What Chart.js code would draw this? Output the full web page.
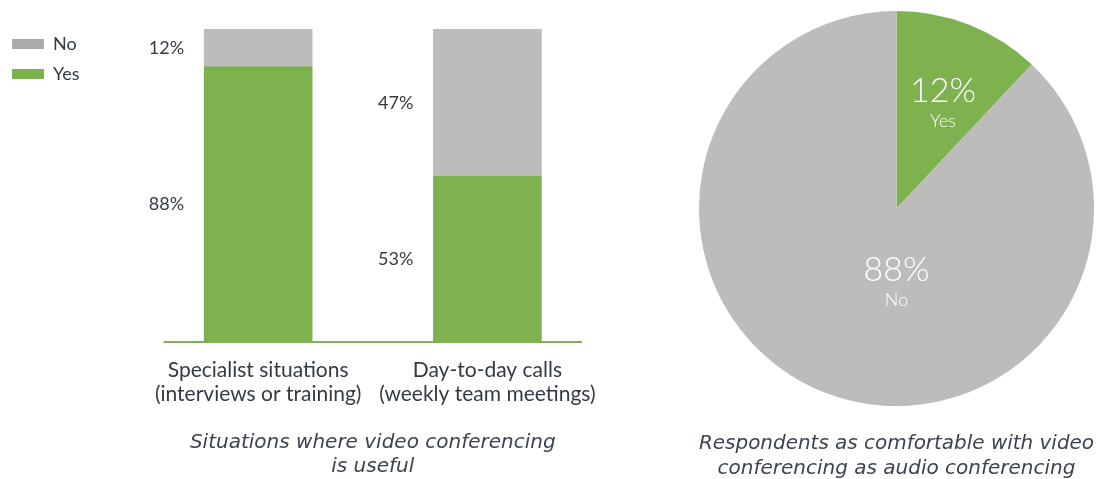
<!DOCTYPE html>
<html>
<head>
<meta charset="utf-8">
<script src="https://cdn.jsdelivr.net/npm/chart.js@4.4.1/dist/chart.umd.min.js"></script>
<style>
  html, body { margin: 0; padding: 0; background: #fff; overflow: hidden; }
  #wrap { position: relative; width: 1113px; height: 479px; overflow: hidden; }
  #bars { position: absolute; left: 0; top: 0; }
  #pie { position: absolute; left: 680px; top: 0; }
</style>
</head>
<body>
<div id="wrap">
  <canvas id="bars" width="620" height="479"></canvas>
  <canvas id="pie" width="433" height="490"></canvas>
</div>
<script>
const GREEN = '#7db24e';
const GREY = '#bcbcba';
const INK = '#343a44';

// left chart: stacked bars
const categories = [['Specialist situations', '(interviews or training)'], ['Day-to-day calls', '(weekly team meetings)']];
const yesShare = [88, 53];
const noShare = [12, 47];
const barTitle = ['Situations where video conferencing', 'is useful'];

// right chart: pie
const pieLabels = ['Yes', 'No'];
const pieShare = [12, 88];
const pieTitle = ['Respondents as comfortable with video', 'conferencing as audio conferencing'];

const FONT = 'Lato, "Open Sans", sans-serif';
const ITALIC = '"DejaVu Sans", "Open Sans", sans-serif';
Chart.defaults.font.family = FONT;
Chart.defaults.color = INK;
Chart.defaults.animation = false;

// value labels to the left of each segment + the short green baseline
const barLabels = {
  id: 'barLabels',
  afterDatasetsDraw(chart) {
    const ctx = chart.ctx;
    ctx.save();
    ctx.font = '18px ' + FONT;
    ctx.fillStyle = INK;
    ctx.textAlign = 'right';
    ctx.textBaseline = 'middle';
    chart.data.datasets.forEach((ds, i) => {
      chart.getDatasetMeta(i).data.forEach((bar, j) => {
        ctx.fillText(ds.data[j] + '%', bar.x - bar.width / 2 - 20, (bar.y + bar.base) / 2);
      });
    });
    const x = chart.scales.x;
    ctx.strokeStyle = GREEN;
    ctx.lineWidth = 2;
    ctx.beginPath();
    ctx.moveTo(x.left + 20, x.top);
    ctx.lineTo(x.right - 20, x.top);
    ctx.stroke();
    ctx.restore();
  }
};

new Chart(document.getElementById('bars'), {
  type: 'bar',
  data: {
    labels: categories,
    datasets: [
      { label: 'Yes', data: yesShare, backgroundColor: GREEN },
      { label: 'No', data: noShare, backgroundColor: GREY },
    ],
  },
  options: {
    responsive: false,
    layout: { padding: { top: 23, left: 0, right: 18, bottom: 0 } },
    datasets: { bar: { barThickness: 108 } },
    plugins: {
      legend: {
        position: 'left', align: 'start', reverse: true,
        labels: {
          boxWidth: 32, boxHeight: 10, padding: 12, color: INK, font: { size: 18 },
          generateLabels(chart) {
            const items = Chart.defaults.plugins.legend.labels.generateLabels(chart);
            items.forEach(it => { it.lineWidth = 0; if (it.text === 'No') it.fillStyle = '#aaaaaa'; });
            return items;
          },
        },
      },
      tooltip: { enabled: false },
    },
    scales: {
      x: {
        stacked: true,
        grid: { display: false },
        border: { display: false },
        ticks: { padding: 8, color: INK, font: { size: 21, lineHeight: 1.143 } },
        title: {
          display: true, text: barTitle, color: '#3d4350',
          font: { family: ITALIC, size: 20, style: 'italic', lineHeight: 1.2 },
          padding: { top: 17, bottom: 0 },
        },
      },
      y: {
        stacked: true, min: 0, max: 102,
        ticks: { display: false },
        grid: { display: false },
        border: { display: false },
        afterFit(s) { s.width = 54; },
      },
    },
  },
  plugins: [barLabels],
});

// percentage + name inside each slice
const pieText = {
  id: 'pieText',
  afterDatasetsDraw(chart) {
    const ctx = chart.ctx;
    ctx.save();
    ctx.fillStyle = '#fff';
    ctx.textAlign = 'center';
    ctx.textBaseline = 'middle';
    chart.getDatasetMeta(0).data.forEach((arc, i) => {
      const p = arc.getProps(['x', 'y', 'startAngle', 'endAngle', 'outerRadius']);
      const span = p.endAngle - p.startAngle;
      const big = span > Math.PI;
      const mid = big ? Math.PI / 2 : (p.startAngle + p.endAngle) / 2;
      const dist = p.outerRadius * (big ? 0.31 : 0.64);
      const cx = p.x + Math.cos(mid) * dist;
      const cy = p.y + Math.sin(mid) * dist;
      ctx.font = '300 34px ' + FONT;
      ctx.fillText(pieShare[i] + '%', cx, cy);
      ctx.font = '300 18px ' + FONT;
      ctx.fillText(pieLabels[i], cx, cy + 30);
    });
    ctx.restore();
  }
};

new Chart(document.getElementById('pie'), {
  type: 'pie',
  data: {
    labels: pieLabels,
    datasets: [{ data: pieShare, backgroundColor: [GREEN, GREY], borderWidth: 0 }],
  },
  options: {
    responsive: false,
    layout: { padding: { top: 11, left: 19, right: 19, bottom: 0 } },
    plugins: {
      legend: { display: false },
      tooltip: { enabled: false },
      title: {
        display: true, position: 'bottom', text: pieTitle, color: '#3d4350',
        font: { family: ITALIC, size: 20, style: 'italic', weight: 'normal', lineHeight: 1.25 },
        padding: { top: 25, bottom: 9 },
      },
    },
  },
  plugins: [pieText],
});
</script>
</body>
</html>
